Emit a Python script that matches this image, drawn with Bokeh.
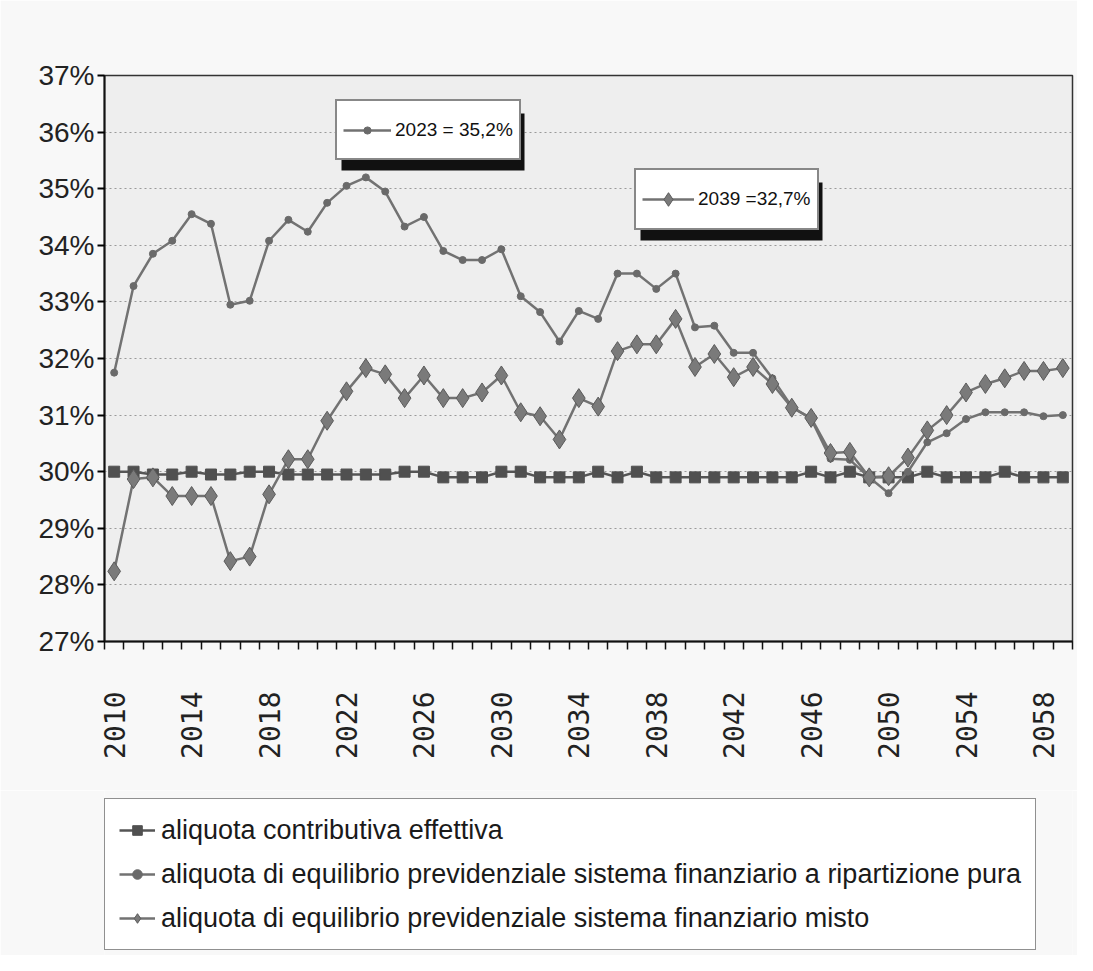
import math
from bokeh.plotting import figure
from bokeh.layouts import column
from bokeh.models import (FixedTicker, Legend, LegendItem, BoxAnnotation, Range1d)
from bokeh.embed import file_html
from bokeh.resources import INLINE

years = list(range(2010, 2060))

effettiva = [30.0, 30.0, 29.95, 29.95, 30.0, 29.95, 29.95, 30.0, 30.0, 29.95,
             29.95, 29.95, 29.95, 29.95, 29.95, 30.0, 30.0, 29.9, 29.9, 29.9,
             30.0, 30.0, 29.9, 29.9, 29.9, 30.0, 29.9, 30.0, 29.9, 29.9,
             29.9, 29.9, 29.9, 29.9, 29.9, 29.9, 30.0, 29.9, 30.0, 29.9,
             29.9, 29.9, 30.0, 29.9, 29.9, 29.9, 30.0, 29.9, 29.9, 29.9]

ripartizione = [31.75, 33.28, 33.85, 34.08, 34.55, 34.38, 32.95, 33.02, 34.08, 34.45,
                34.24, 34.75, 35.05, 35.2, 34.95, 34.33, 34.5, 33.9, 33.74, 33.74,
                33.93, 33.1, 32.82, 32.3, 32.84, 32.7, 33.5, 33.5, 33.23, 33.5,
                32.55, 32.58, 32.1, 32.1, 31.65, 31.15, 30.93, 30.23, 30.21, 29.9,
                29.62, 30.0, 30.52, 30.68, 30.93, 31.05, 31.05, 31.05, 30.98, 31.0]

misto = [28.24, 29.87, 29.9, 29.57, 29.57, 29.57, 28.42, 28.5, 29.6, 30.22,
         30.22, 30.9, 31.42, 31.83, 31.72, 31.3, 31.7, 31.3, 31.3, 31.4,
         31.7, 31.05, 30.98, 30.57, 31.3, 31.15, 32.13, 32.25, 32.25, 32.7,
         31.85, 32.08, 31.67, 31.85, 31.55, 31.13, 30.95, 30.33, 30.35, 29.9,
         29.92, 30.25, 30.73, 31.0, 31.4, 31.55, 31.65, 31.78, 31.78, 31.83]

series_names = ["aliquota contributiva effettiva",
                "aliquota di equilibrio previdenziale sistema finanziario a ripartizione pura",
                "aliquota di equilibrio previdenziale sistema finanziario misto"]

y_ticks = [27, 28, 29, 30, 31, 32, 33, 34, 35, 36, 37]
y_tick_labels = {v: f"{v}%" for v in y_ticks}
x_label_years = list(range(2010, 2059, 4))
x_boundaries = [y - 0.5 for y in years] + [years[-1] + 0.5]

callout1_text = "2023 = 35,2%"
callout2_text = "2039 =32,7%"

FONT = "Liberation Sans"
LINE = "#727272"
SQ = "#505050"
PLUS = "#6a6a6a"
DIA_FILL = "#7a7a7a"
DIA_LINE = "#5a5a5a"
BG_OUT = "#f8f8f8"
NAN = float("nan")

p = figure(frame_width=968, frame_height=566,
           min_border_left=104, min_border_top=75, min_border_right=5, min_border_bottom=149,
           x_range=Range1d(years[0] - 0.5, years[-1] + 0.5), y_range=Range1d(27, 37),
           output_backend="svg", toolbar_location=None)

p.background_fill_color = "#eeeeee"
p.border_fill_color = BG_OUT
p.outline_line_color = "#333333"
p.outline_line_width = 1.5

# axes
p.yaxis.ticker = FixedTicker(ticks=y_ticks)
p.yaxis.major_label_overrides = y_tick_labels
p.yaxis.major_label_text_font = FONT
p.yaxis.major_label_text_font_size = "28px"
p.yaxis.major_label_text_color = "#222222"
p.yaxis.major_label_standoff = 3
p.yaxis.major_tick_out = 7
p.yaxis.major_tick_in = 0
p.yaxis.minor_tick_line_color = None
p.yaxis.axis_line_width = 2
p.yaxis.axis_line_color = "#111111"
p.yaxis.major_tick_line_width = 2

p.xaxis.ticker = FixedTicker(ticks=x_label_years, minor_ticks=x_boundaries)
p.xaxis.major_label_overrides = {v: str(v) for v in x_label_years}
p.xaxis.major_tick_out = 0
p.xaxis.major_tick_in = 0
p.xaxis.minor_tick_out = 8
p.xaxis.minor_tick_in = 0
p.xaxis.minor_tick_line_width = 1.5
p.xaxis.minor_tick_line_color = "#111111"
p.xaxis.axis_line_width = 2
p.xaxis.axis_line_color = "#111111"
p.xaxis.major_label_orientation = math.pi / 2
p.xaxis.major_label_standoff = 42
p.xaxis.major_label_text_font = "DejaVu Sans Mono"
p.xaxis.major_label_text_font_size = "28px"
p.xaxis.major_label_text_color = "#222222"

p.xgrid.grid_line_color = None
p.ygrid.grid_line_color = "#9a9a9a"
p.ygrid.grid_line_dash = "2 3"
p.ygrid.grid_line_width = 1

# series
l0 = p.line(years, effettiva, line_color="#555555", line_width=2.5)
m0 = p.scatter(years, effettiva, marker="square", size=11, fill_color=SQ, line_color=SQ)
l1 = p.line(years, ripartizione, line_color=LINE, line_width=2.5)
m1 = p.scatter(years, ripartizione, marker="circle", size=7, fill_color=PLUS, line_color=PLUS)
l2 = p.line(years, misto, line_color=LINE, line_width=2.5)
m2 = p.scatter(years, misto, marker="diamond", size=19, fill_color=DIA_FILL, line_color=DIA_LINE)

# callouts (shadow + boxed legend); positions in screen px from the frame's bottom-left
def callout(vx, vy, w, h, gw, gh, text, renderers):
    shadow = BoxAnnotation(left=vx + 6, right=vx + w + 7, bottom=vy - 10, top=vy + h - 10,
                           left_units="screen", right_units="screen",
                           bottom_units="screen", top_units="screen",
                           fill_color="#111111", fill_alpha=1, line_color=None)
    p.add_layout(shadow)
    lg = Legend(items=[LegendItem(label=text, renderers=renderers)], location=(vx, vy),
                padding=6, spacing=0, margin=0, glyph_width=gw, glyph_height=gh,
                label_standoff=4, label_height=h - 12,
                label_text_font=FONT, label_text_font_size="19px", label_text_color="#111111",
                border_line_color="#111111", border_line_width=2,
                background_fill_color="white", background_fill_alpha=1)
    p.add_layout(lg)

callout(231, 481, 182, 57, 48, 18, callout1_text, [l1, m1])
callout(530, 411, 181, 58, 52, 34, callout2_text, [l2, m2])

# legend panel below the chart (frames are aligned by the column layout)
p2 = figure(width=1077, height=165, min_border=0, output_backend="svg", toolbar_location=None,
            x_axis_location=None, y_axis_location=None,
            x_range=Range1d(0, 1), y_range=Range1d(0, 1))
p2.outline_line_color = None
p2.grid.visible = False
p2.background_fill_color = BG_OUT
p2.border_fill_color = BG_OUT
k0 = p2.line(x=[NAN], y=[NAN], line_color="#555555", line_width=2.5)
s0 = p2.scatter(x=[NAN], y=[NAN], marker="square", fill_color=SQ, line_color=SQ)
k1 = p2.line(x=[NAN], y=[NAN], line_color=LINE, line_width=2.5)
s1 = p2.scatter(x=[NAN], y=[NAN], marker="circle", fill_color=PLUS, line_color=PLUS)
k2 = p2.line(x=[NAN], y=[NAN], line_color=LINE, line_width=2.5)
s2 = p2.scatter(x=[NAN], y=[NAN], marker="diamond", fill_color=DIA_FILL, line_color=DIA_LINE)

legend = Legend(items=[LegendItem(label=series_names[0], renderers=[k0, s0]),
                       LegendItem(label=series_names[1], renderers=[k1, s1]),
                       LegendItem(label=series_names[2], renderers=[k2, s2])],
                location=(0, 5), padding=14, spacing=10, margin=0,
                glyph_width=36, glyph_height=24, label_height=34, label_standoff=6,
                label_text_font=FONT, label_text_font_size="27px", label_text_color="#1a1a1a",
                border_line_color="#222222", border_line_width=1.5,
                background_fill_color="white", background_fill_alpha=1)
p2.add_layout(legend)

open("out.html", "w").write(file_html(column(p, p2, spacing=0), INLINE))
